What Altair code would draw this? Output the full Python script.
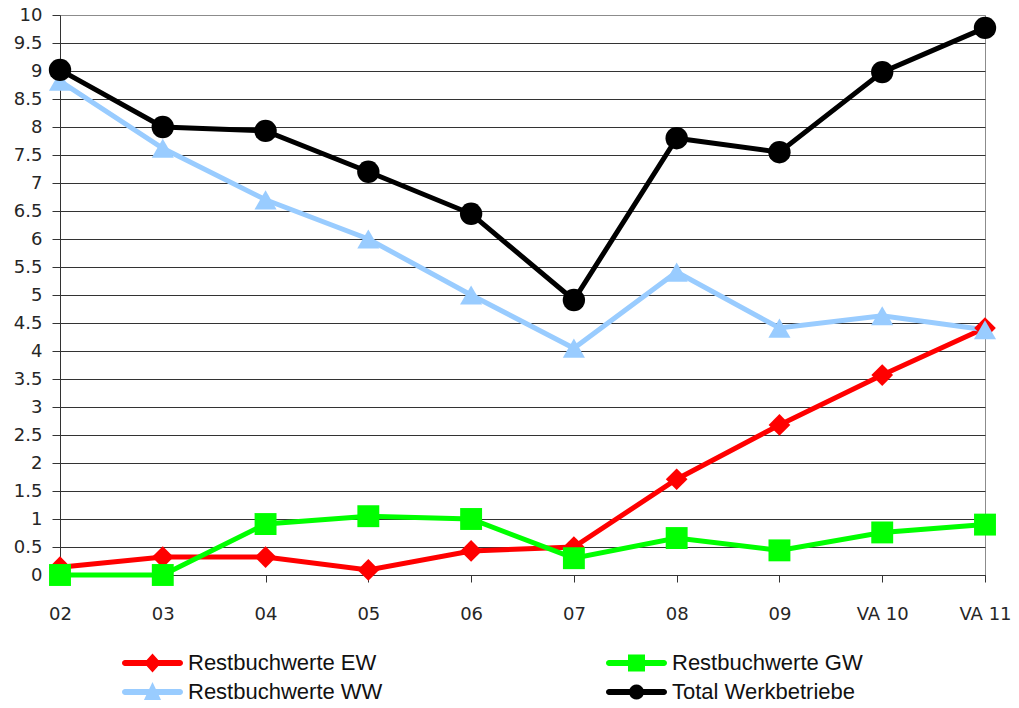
import altair as alt
import pandas as pd

categories = ["02", "03", "04", "05", "06", "07", "08", "09", "VA 10", "VA 11"]
series_names = ["Restbuchwerte EW", "Restbuchwerte GW", "Restbuchwerte WW", "Total Werkbetriebe"]
ew = [0.14, 0.32, 0.32, 0.09, 0.43, 0.50, 1.71, 2.68, 3.57, 4.41]
gw = [0.00, 0.00, 0.91, 1.05, 1.00, 0.30, 0.66, 0.44, 0.76, 0.90]
ww = [8.82, 7.62, 6.70, 6.00, 5.00, 4.05, 5.41, 4.41, 4.63, 4.38]
total = [9.02, 8.00, 7.93, 7.20, 6.45, 4.91, 7.80, 7.55, 8.98, 9.77]
y_ticks = [0, 0.5, 1, 1.5, 2, 2.5, 3, 3.5, 4, 4.5, 5, 5.5, 6, 6.5, 7, 7.5, 8, 8.5, 9, 9.5, 10]

colors = ["#ff0000", "#00ff00", "#99ccff", "#000000"]
marker_shapes = ["diamond", "square", "triangle-up", "circle"]
marker_sizes = [470, 500, 620, 500]
CAP_R = "L4.8,-0.3A0.3,0.3 0 0 1 4.8,0.3"
CAP_L = "L-0.7,0.3A0.3,0.3 0 0 1 -0.7,-0.3Z"
legend_paths = [
    "M-0.7,-0.3L1.47,-0.3L2.05,-0.95L2.63,-0.3" + CAP_R + "L2.63,0.3L2.05,0.95L1.47,0.3" + CAP_L,
    "M-0.7,-0.3L1.2,-0.3L1.2,-0.85L2.9,-0.85L2.9,-0.3" + CAP_R + "L2.9,0.3L2.9,0.85L1.2,0.85L1.2,0.3" + CAP_L,
    "M-0.7,-0.3L1.72,-0.3L2.05,-1.0L2.38,-0.3" + CAP_R + "L2.67,0.3L2.95,0.9L1.15,0.9L1.43,0.3" + CAP_L,
    "M-0.7,-0.3L1.36,-0.3A0.75,0.75 0 0 1 2.74,-0.3" + CAP_R + "L2.74,0.3A0.75,0.75 0 0 1 1.36,0.3" + CAP_L,
]

rows = []
for name, vals in zip(series_names, [ew, gw, ww, total]):
    for c, v in zip(categories, vals):
        rows.append({"cat": c, "value": v, "series": name})
df = pd.DataFrame(rows)

x = alt.X(
    "cat:N",
    sort=categories,
    scale=alt.Scale(type="point", padding=0),
    axis=alt.Axis(labelAngle=0, tickSize=7, labelPadding=23, grid=False),
    title=None,
)
y = alt.Y(
    "value:Q",
    scale=alt.Scale(domain=[0, 10], nice=False),
    axis=alt.Axis(
        values=y_ticks,
        labelExpr="'' + datum.value",
        tickSize=8,
        labelPadding=10,
        grid=True,
        gridColor={"condition": {"test": "datum.value === 10", "value": "#8c8c8c"}, "value": "#333333"},
        gridWidth=1,
    ),
    title=None,
)

color_main = alt.Color("series:N", scale=alt.Scale(domain=series_names, range=colors), legend=None)

base = alt.Chart(df)

lines = base.mark_line(strokeWidth=5).encode(x=x, y=y, color=color_main)

points = base.mark_point(filled=True, opacity=1).encode(
    x=x,
    y=y,
    color=color_main,
    shape=alt.Shape("series:N", scale=alt.Scale(domain=series_names, range=marker_shapes), legend=None),
    size=alt.Size("series:N", scale=alt.Scale(domain=series_names, range=marker_sizes), legend=None),
)

legend_layer = base.mark_point(filled=True, opacity=1, size=400, strokeWidth=0).encode(
    x=x,
    y=y,
    color=alt.Color("series:N", scale=alt.Scale(domain=series_names, range=colors),
                    legend=alt.Legend(title=None, direction="horizontal")),
    shape=alt.Shape("series:N", scale=alt.Scale(domain=series_names, range=legend_paths),
                    legend=alt.Legend(title=None, direction="horizontal")),
).transform_filter("false")

chart = (
    alt.layer(lines, points, legend_layer)
    .resolve_scale(color="independent", shape="independent", size="independent")
    .properties(
        width=925,
        height=560,
        autosize=alt.AutoSizeParams(type="none"),
        padding={"left": 52, "top": 7, "right": 26, "bottom": 125},
    )
    .configure_view(stroke="#8c8c8c", strokeWidth=1)
    .configure_axis(
        labelFont="DejaVu Sans",
        labelFontSize=18,
        labelColor="#262626",
        domainColor="#333333",
        tickColor="#333333",
    )
    .configure_legend(
        orient="none",
        legendX=61,
        legendY=637,
        columns=2,
        columnPadding=222,
        rowPadding=7,
        symbolSize=400,
        symbolStrokeWidth=0,
        labelFont="Liberation Sans",
        labelFontSize=22,
        labelColor="#111111",
        labelOffset=45,
        labelLimit=400,
    )
)

chart.save("out.html", embed_options={"renderer": "svg", "actions": False})
